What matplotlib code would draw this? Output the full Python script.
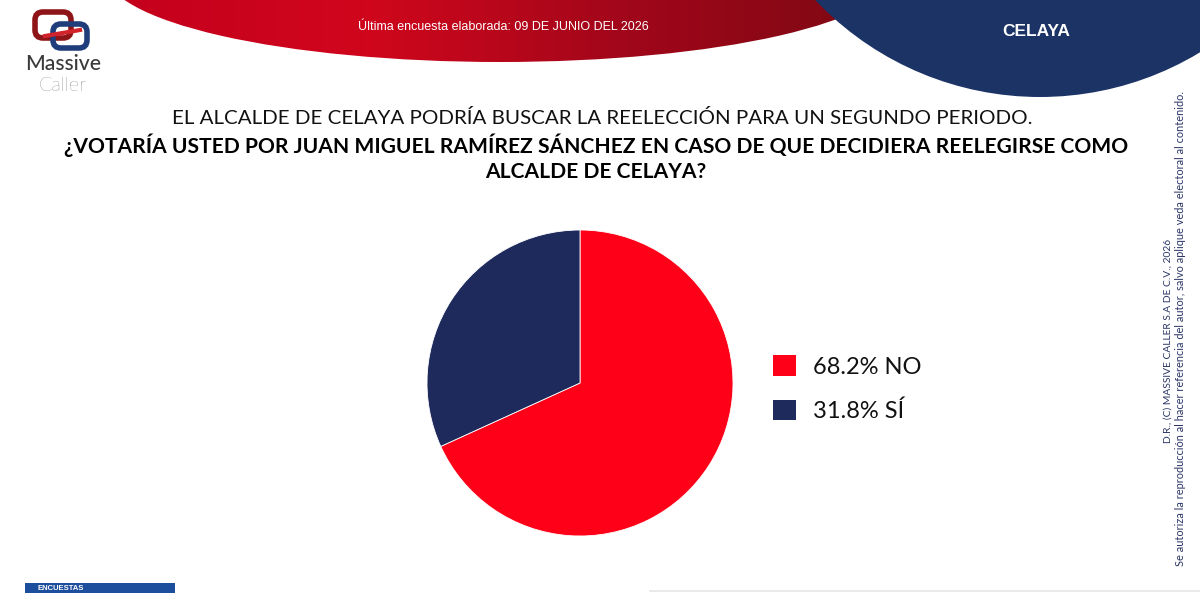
import numpy as np
import matplotlib
matplotlib.use("Agg")
import matplotlib.pyplot as plt
from matplotlib.patches import Ellipse, Circle, Rectangle, FancyBboxPatch
from matplotlib.colors import LinearSegmentedColormap

# ---- data ----
categories = ["NO", "SÍ"]
values = [68.2, 31.8]
colors = ["#FF0019", "#1F2A5C"]
header_text = "Última encuesta elaborada: 09 DE JUNIO DEL 2026"
region = "CELAYA"
title_line1 = "EL ALCALDE DE CELAYA PODRÍA BUSCAR LA REELECCIÓN PARA UN SEGUNDO PERIODO."
title_line2 = "¿VOTARÍA USTED POR JUAN MIGUEL RAMÍREZ SÁNCHEZ EN CASO DE QUE DECIDIERA REELEGIRSE COMO"
title_line3 = "ALCALDE DE CELAYA?"
copyright1 = "D.R., (C) MASSIVE CALLER S.A DE C.V., 2026"
copyright2 = "Se autoriza la reproducción al hacer referencia del autor, salvo aplique veda electoral al contenido."

W, H = 1200, 593
fig = plt.figure(figsize=(W / 100, H / 100), dpi=100)
fig.patch.set_facecolor("white")
renderer = fig.canvas.get_renderer()

bg = fig.add_axes([0, 0, 1, 1])
bg.set_xlim(0, W)
bg.set_ylim(H, 0)
bg.axis("off")


def fit_text(t, target_px, vertical=False):
    """Scale font size so that the text spans target_px pixels."""
    for _ in range(3):
        bb = t.get_window_extent(renderer=renderer)
        cur = bb.height if vertical else bb.width
        t.set_fontsize(t.get_fontsize() * target_px / cur)


# red header shape with gradient
red_ell = Ellipse((500, -28), 790, 180, facecolor="none", edgecolor="none")
bg.add_patch(red_ell)
grad = np.linspace(0, 1, 256).reshape(1, -1)
red_cmap = LinearSegmentedColormap.from_list("r", ["#C4001C", "#D0061C", "#A0061A", "#7A0A12"])
im = bg.imshow(grad, extent=[100, 900, 70, -120], cmap=red_cmap, aspect="auto", zorder=1)
im.set_clip_path(red_ell)

# blue circle
blue = Circle((1040, -212), 309, facecolor="#1B3465", edgecolor="none", zorder=2)
bg.add_patch(blue)

bg.text(503, 27, header_text, color="white", fontsize=9, family="Liberation Sans",
        ha="center", va="center", zorder=3)
bg.text(1036, 32, region, color="white", fontsize=12.5, family="Liberation Sans",
        fontweight="bold", ha="center", va="center", zorder=3)

# logo
bg.add_patch(FancyBboxPatch((37, 14), 32, 22, boxstyle="round,pad=2,rounding_size=8",
                            facecolor="none", edgecolor="#8E1418", linewidth=4, zorder=3))
bg.add_patch(FancyBboxPatch((55, 26), 30, 20, boxstyle="round,pad=2,rounding_size=8",
                            facecolor="none", edgecolor="#1E3D7A", linewidth=4, zorder=3))
bg.plot([45, 80], [36, 30], color="#D2232A", lw=3, zorder=4)
t = bg.text(63, 70, "Massive", color="#3A3A3A", fontsize=15, family="Lato",
            fontweight="medium", ha="center", va="baseline", zorder=3)
fit_text(t, 76)
t = bg.text(63, 91, "Caller", color="#3A3A3A", fontsize=15, family="Lato",
            fontweight="light", ha="center", va="baseline", zorder=3)
fit_text(t, 48)

# titles
t = bg.text(602, 118, title_line1, color="#111111", fontsize=14, family="Lato",
            ha="center", va="center")
fit_text(t, 860)
t2 = bg.text(596, 145, title_line2, color="#000000", fontsize=14, family="Lato",
             fontweight="bold", ha="center", va="center")
fit_text(t2, 1062)
bg.text(596, 172, title_line3, color="#000000", fontsize=t2.get_fontsize(), family="Lato",
        fontweight="bold", ha="center", va="center")

# vertical copyright text
t = bg.text(1168, 341, copyright1, rotation=90, color="#2A3566", fontsize=7.2,
            family="Lato", ha="center", va="center")
fit_text(t, 208, vertical=True)
t = bg.text(1181, 328, copyright2, rotation=90, color="#2A3566", fontsize=7.2,
            family="Lato", ha="center", va="center")
fit_text(t, 475, vertical=True)

# bottom decorations
bg.add_patch(Rectangle((25, 583), 150, 12, facecolor="#1D4E9E", edgecolor="none"))
bg.text(37, 589, "ENCUESTAS", color="white", fontsize=5.5, family="Liberation Sans",
        fontweight="bold", ha="left", va="center")
bg.plot([650, 1200], [591, 591], color="#E6E6E6", lw=1.2)

# pie
cx, cy, r = 580, 383, 153
pax = fig.add_axes([(cx - r) / W, 1 - (cy + r) / H, 2 * r / W, 2 * r / H])
wedges, _ = pax.pie(values, colors=colors, startangle=90, counterclock=False,
                    radius=1, wedgeprops=dict(linewidth=0.6, edgecolor="white"))
pax.set_xlim(-1, 1)
pax.set_ylim(-1, 1)
pax.set_aspect("equal")
pax.axis("off")

labels = [f"{v}% {c}" for v, c in zip(values, categories)]
handles = [Rectangle((0, 0), 1, 1, facecolor=c, edgecolor="none") for c in colors]
leg = fig.legend(handles, labels, loc="upper left",
                 bbox_to_anchor=(752 / W, 1 - 334 / H), frameon=False,
                 prop=dict(family="Lato", size=17), handlelength=0.95,
                 handleheight=0.95, handletextpad=0.75, labelspacing=0.93,
                 labelcolor="#111111")

fig.savefig("out.png", dpi=100, facecolor="white")
